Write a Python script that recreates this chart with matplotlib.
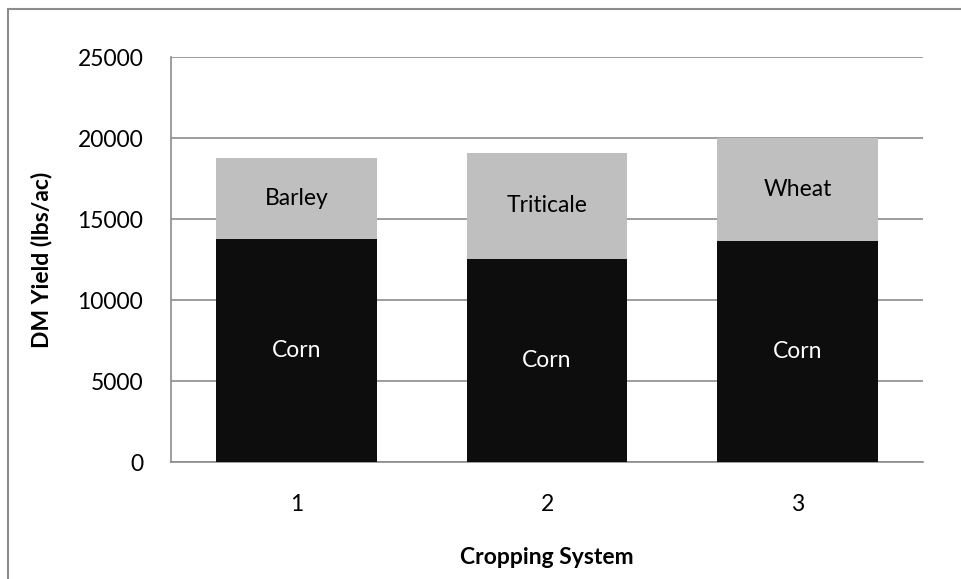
import matplotlib
matplotlib.use("Agg")
import matplotlib.pyplot as plt
from matplotlib.patches import Rectangle

systems = ["1", "2", "3"]
corn = [13800, 12550, 13650]
small_grain = [5000, 6550, 6400]
small_grain_names = ["Barley", "Triticale", "Wheat"]
yticks = [0, 5000, 10000, 15000, 20000, 25000]

plt.rcParams['font.family'] = ['Lato', 'DejaVu Sans']
FS = 16.5

fig = plt.figure(figsize=(9.61, 5.79), dpi=100)
ax = fig.add_axes([0.178, 0.2016, 0.7825, 0.6994])

x = list(range(len(systems)))
w = 0.64
ax.bar(x, corn, width=w, color="#0D0D0D", zorder=3)
ax.bar(x, small_grain, width=w, bottom=corn, color="#BFBFBF", zorder=3)

for i in x:
    ax.text(i, corn[i] / 2, "Corn", ha="center", va="center", color="white", fontsize=FS, zorder=4)
    ax.text(i, corn[i] + small_grain[i] / 2, small_grain_names[i], ha="center", va="center",
            color="black", fontsize=FS, zorder=4)

ax.set_xlim(-0.5, 2.5)
ax.set_ylim(0, 25000)
ax.set_yticks(yticks)
ax.set_yticklabels([str(v) for v in yticks])
ax.set_xticks(x)
ax.set_xticklabels(systems)
ax.tick_params(axis="both", length=0, labelsize=FS)
ax.tick_params(axis="y", pad=20)
ax.tick_params(axis="x", pad=23)
ax.yaxis.grid(True, color="#8C8C8C", linewidth=1.2, zorder=1)
ax.set_axisbelow(True)

for s in ["top", "right"]:
    ax.spines[s].set_visible(False)
for s in ["left", "bottom"]:
    ax.spines[s].set_color("#8C8C8C")
    ax.spines[s].set_linewidth(1.2)

ax.set_ylabel("DM Yield (lbs/ac)", fontsize=FS, fontweight="bold")
ax.set_xlabel("Cropping System", fontsize=FS, fontweight="bold")
ax.yaxis.label.set_va("center")
ax.xaxis.label.set_va("center")
ax.yaxis.set_label_coords(-0.172, 0.5)
ax.xaxis.set_label_coords(0.5, -0.234)

# chart border (left and top visible, extends off the image)
fig.patches.append(Rectangle((8 / 961, -0.1), 1.2, 1.1 - 9 / 579, transform=fig.transFigure,
                             fill=False, edgecolor="#8C8C8C", linewidth=1.5))

fig.savefig("out.png", dpi=100)
